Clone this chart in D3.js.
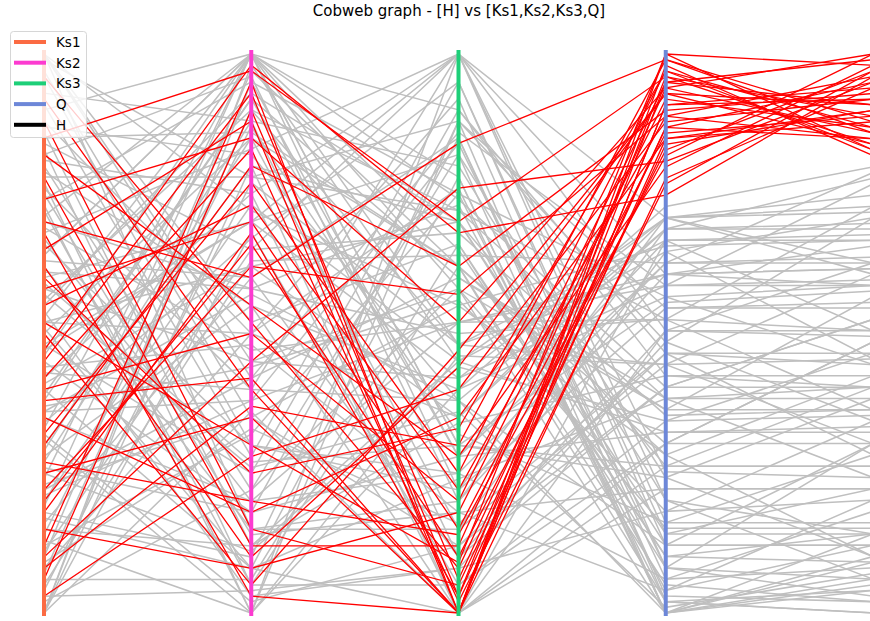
<!DOCTYPE html>
<html>
<head>
<meta charset="utf-8">
<title>Cobweb graph</title>
<script src="https://cdn.jsdelivr.net/npm/d3@7/dist/d3.min.js"></script>
<style>
  body { margin: 0; background: #fff; }
  text { font-family: "DejaVu Sans", sans-serif; }
</style>
</head>
<body>
<script>
// dimensions shown as vertical axes
var dims = ["Ks1", "Ks2", "Ks3", "Q", "H"];
var dimColors = ["#fb6b43", "#fc3bd0", "#1dcf78", "#6d87d8", "#000000"];

// one entry per sample (normalised 0-100)
// first 35 samples are the high-H ones
var ks1 = [92,85,78,70,65,60,55,50,45,40,35,30,25,20,15,10,6,3,88,82,74,68,58,52,47,38,32,27,22,12,8,96,62,42,18,
  100,97,93,90,88,86,84,82,80,78,76,74,72,70,68,66,64,62,60,58,56,54,52,50,48,46,44,42,40,38,36,34,32,30,28,26,24,22,20,18,16,14,12,10,8,6,4,2,0,
  100,0,99,91,87,83,79,75,71,67,63,59,55,51,47,43,39,35,31,27,23,19,15,11,7,3,100,0,96,81,73,61,53,45,37,29,21,13,5,0,57,33,100,41,69,0,100,64,48,25,9,85,77,36,52,17];
var ks2 = [40,97,12,60,88,25,73,5,93,50,18,80,35,66,8,45,90,28,15,55,85,3,70,30,98,42,77,20,62,95,37,52,10,83,68,
  72,35,88,100,50,12,65,96,22,78,40,95,5,58,83,30,100,15,70,45,90,3,62,85,25,100,48,75,8,92,38,67,2,80,55,18,100,42,73,10,
  60,87,32,97,50,6,77,22,95,45,68,78,28,82,5,55,14,100,20,60,27,93,8,70,40,92,20,0,85,35,100,12,65,90,4,52,98,30,75,0,
  58,100,18,44,88,38,0,63,80,26,100,15,62,47,36,42,100,70,11,33,86,0,57,50,8];
var ks3 = [0,70,12,84,0,33,22,47,6,20,35,62,0,10,18,76,3,40,5,28,52,0,15,9,68,0,25,14,57,0,30,8,44,2,3,
  55,12,80,30,92,45,68,20,58,88,38,75,5,50,100,25,65,15,82,42,72,8,35,62,90,48,18,100,78,28,52,95,12,70,40,85,22,60,45,88,
  10,32,75,62,35,66,48,82,28,58,5,72,95,38,62,0,18,90,52,85,30,70,0,42,100,60,25,88,15,55,78,34,100,48,8,66,45,22,0,40,
  73,58,28,56,10,84,46,64,0,36,74,20,70,52,0,86,30,100,44,16,62,100,38,76,24];
var q = [99,95,93,98,90,96,88,92,86,94,84,89,97,82,91,80,95,87,83,79,93,77,85,99,74,90,96,81,88,94,98,86,92,76,84,
  65,40,20,55,8,70,35,60,15,48,68,2,30,52,25,62,10,44,0,58,38,18,70,5,42,66,22,50,0,32,60,12,46,26,72,6,54,36,64,2,
  40,16,56,28,68,8,44,24,62,0,34,52,14,0,30,66,4,46,58,3,26,12,50,70,20,38,6,54,64,28,0,42,16,60,48,10,32,70,22,56,
  4,36,66,18,50,8,44,62,26,1,40,68,14,52,30,58,24,70,34,46,2,60,12,0,38];
var h = [97,88,99,85,93,82,95,90,84,98,87,92,81,96,86,94,83,91,89,97,85,93,88,82,95,91,86,99,84,90,87,94,83,96,89,
  66,52,14,57,30,62,36,58,15,70,69,4,48,50,24,78,14,30,6,59,40,34,72,2,42,50,22,62,10,33,61,12,28,40,79,18,55,36,45,0,
  52,16,58,10,68,6,45,38,63,14,35,72,14,5,48,66,20,44,76,2,26,30,49,60,6,38,8,54,70,42,4,40,28,61,34,9,32,74,22,44,
  12,56,67,20,50,3,60,62,26,7,40,77,22,36,30,58,10,71,46,46,0,65,12,9,24];

var data = ks1.map(function(d, i) {
  return { Ks1: ks1[i], Ks2: ks2[i], Ks3: ks3[i], Q: q[i], H: h[i] };
});
var hCut = 80.5; // top part of H is highlighted

var width = 870, height = 621;
var top_ = 50, bottom = 614;

var svg = d3.select("body").append("svg")
  .attr("width", width)
  .attr("height", height);

var x = d3.scalePoint().domain(dims).range([44, 873]);
var y = {};
dims.forEach(function(k) {
  y[k] = d3.scaleLinear()
    .domain(d3.extent(data, function(d) { return d[k]; }))
    .range([bottom - 1, top_ + 4]);
});

var line = d3.line();
function path(d) {
  return line(dims.map(function(k) { return [x(k), y[k](d[k])]; }));
}

// grey lines first, red ones on top
var ordered = data.slice().sort(function(a, b) {
  return (a.H > hCut) - (b.H > hCut);
});

svg.append("g").selectAll("path")
  .data(ordered)
  .enter().append("path")
  .attr("d", path)
  .attr("fill", "none")
  .attr("stroke", function(d) { return d.H > hCut ? "#ff0000" : "#bfbfbf"; })
  .attr("stroke-width", function(d) { return d.H > hCut ? 1.3 : 1.5; });

// vertical axes
svg.append("g").selectAll("line")
  .data(dims)
  .enter().append("line")
  .attr("x1", function(d) { return x(d); })
  .attr("x2", function(d) { return x(d); })
  .attr("y1", top_)
  .attr("y2", bottom + 2)
  .attr("stroke", function(d, i) { return dimColors[i]; })
  .attr("stroke-width", 4);

// title
svg.append("text")
  .attr("x", 459)
  .attr("y", 16)
  .attr("text-anchor", "middle")
  .style("font-size", "15px")
  .text("Cobweb graph - [H] vs [Ks1,Ks2,Ks3,Q]");

// legend
var lg = svg.append("g");
lg.append("rect")
  .attr("x", 10.5).attr("y", 31.5)
  .attr("width", 76).attr("height", 106)
  .attr("rx", 3)
  .attr("fill", "#fff").attr("fill-opacity", 0.8)
  .attr("stroke", "#d6d6d6");
var items = lg.selectAll("g.item")
  .data(dims)
  .enter().append("g")
  .attr("class", "item")
  .attr("transform", function(d, i) { return "translate(0," + (42 + i * 20.7) + ")"; });
items.append("line")
  .attr("x1", 14).attr("x2", 46)
  .attr("stroke", function(d, i) { return dimColors[i]; })
  .attr("stroke-width", 4);
items.append("text")
  .attr("x", 56).attr("y", 5)
  .style("font-size", "13.5px")
  .text(function(d) { return d; });
</script>
</body>
</html>
